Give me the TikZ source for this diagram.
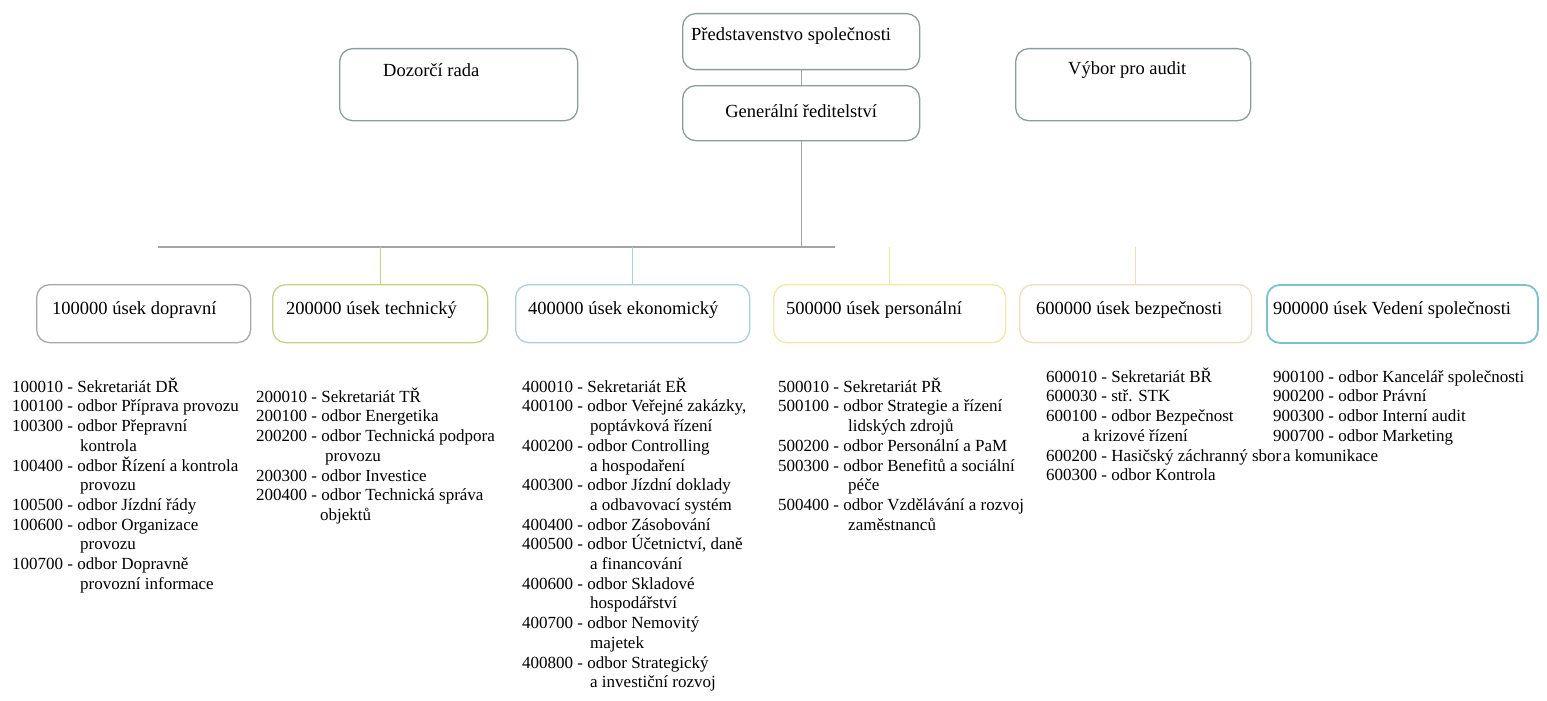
\documentclass[tikz,border=0pt]{standalone}
\usepackage{fontspec}
\setmainfont{Liberation Serif}
\definecolor{topc}{HTML}{8C9C9C}
\definecolor{c1}{HTML}{A8A8A8}
\definecolor{c2}{HTML}{C5D184}
\definecolor{c3}{HTML}{ABD0DA}
\definecolor{c4}{HTML}{EEEAA6}
\definecolor{c5}{HTML}{F2DCBF}
\definecolor{c6}{HTML}{7BC2CE}
\definecolor{linec}{HTML}{A4A4A4}
\tikzset{
  box/.style={draw, rounded corners=13pt, line width=1.3pt, anchor=north west, inner sep=0pt, fill=white},
  btxt/.style={font=\fontsize{18.5}{22}\selectfont, inner sep=0pt, anchor=west},
  ltxt/.style={font=\fontsize{17}{19.7}\selectfont, inner sep=0pt, anchor=north west, align=left},
  conn/.style={line width=1.1pt}
}
\begin{document}
\begin{tikzpicture}[x=1pt,y=-1pt]
\useasboundingbox (0,0) rectangle (1547,701);
% top boxes
\node[box, draw=topc, minimum width=237pt, minimum height=56pt] (pr) at (682,13) {};
\node[btxt] (prt) at ([xshift=9pt,yshift=-23pt]pr.north west) {Představenstvo společnosti};
\node[box, draw=topc, minimum width=237pt, minimum height=55pt] (gr) at (682,85) {};
\node[btxt, anchor=center] (grt) at ([yshift=-26pt]gr.north) {Generální ředitelství};
\node[box, draw=topc, minimum width=238pt, minimum height=72pt] (dr) at (339,48) {};
\node[btxt] (drt) at ([xshift=44pt,yshift=-22pt]dr.north west) {Dozorčí rada};
\node[box, draw=topc, minimum width=235pt, minimum height=72pt] (va) at (1015,48) {};
\node[btxt] (vat) at ([xshift=53pt,yshift=-22pt]va.north west) {Výbor pro audit};
% connectors top
\coordinate (hl) at (158,247);
\coordinate (hr) at (835,247);
\draw[conn, draw=linec] (pr.south) -- (pr.south |- gr.north);
\draw[conn, draw=linec] (gr.south) -- (gr.south |- hl);
\draw[conn, draw=linec] (hl) -- (hr);
% division boxes
\node[box, draw=c1, minimum width=214pt, minimum height=58pt] (b1) at (36,284) {};
\node[box, draw=c2, minimum width=215pt, minimum height=58pt] (b2) at (272,284) {};
\node[box, draw=c3, minimum width=234pt, minimum height=58pt] (b3) at (515,284) {};
\node[box, draw=c4, minimum width=232pt, minimum height=58pt] (b4) at (773,284) {};
\node[box, draw=c5, minimum width=232pt, minimum height=58pt] (b5) at (1019,284) {};
\node[box, draw=c6, line width=1.8pt, minimum width=271pt, minimum height=58pt] (b6) at (1266,284) {};
\node[btxt] (b1t) at ([xshift=16pt,yshift=-26pt]b1.north west) {100000 úsek dopravní};
\node[btxt] (b2t) at ([xshift=14pt,yshift=-26pt]b2.north west) {200000 úsek technický};
\node[btxt] (b3t) at ([xshift=13pt,yshift=-26pt]b3.north west) {400000 úsek ekonomický};
\node[btxt] (b4t) at ([xshift=13pt,yshift=-26pt]b4.north west) {500000 úsek personální};
\node[btxt] (b5t) at ([xshift=17pt,yshift=-26pt]b5.north west) {600000 úsek bezpečnosti};
\node[btxt] (b6t) at ([xshift=7pt,yshift=-26pt]b6.north west) {900000 úsek Vedení společnosti};
% stubs
\draw[conn, draw=c2] (b2.north) -- (b2.north |- hl);
\draw[conn, draw=c3] (b3.north) -- (b3.north |- hl);
\draw[conn, draw=c4] (b4.north) -- (b4.north |- hl);
\draw[conn, draw=c5] (b5.north) -- (b5.north |- hl);
% lists
\node[ltxt] (l1) at (12,376) {\rule{0pt}{16pt}100010 - Sekretariát DŘ\\
100100 - odbor Příprava provozu\\
100300 - odbor Přepravní\\
\hspace*{68pt}kontrola\\
100400 - odbor Řízení a kontrola\\
\hspace*{68pt}provozu\\
100500 - odbor Jízdní řády\\
100600 - odbor Organizace\\
\hspace*{68pt}provozu\\
100700 - odbor Dopravně\\
\hspace*{68pt}provozní informace};
\node[ltxt] (l2) at (256,386) {\rule{0pt}{16pt}200010 - Sekretariát TŘ\\
200100 - odbor Energetika\\
200200 - odbor Technická podpora\\
\hspace*{69pt}provozu\\
200300 - odbor Investice\\
200400 - odbor Technická správa\\
\hspace*{64pt}objektů};
\node[ltxt] (l3) at (522,376) {\rule{0pt}{16pt}400010 - Sekretariát EŘ\\
400100 - odbor Veřejné zakázky,\\
\hspace*{68pt}poptávková řízení\\
400200 - odbor Controlling\\
\hspace*{68pt}a hospodaření\\
400300 - odbor Jízdní doklady\\
\hspace*{68pt}a odbavovací systém\\
400400 - odbor Zásobování\\
400500 - odbor Účetnictví, daně\\
\hspace*{68pt}a financování\\
400600 - odbor Skladové\\
\hspace*{68pt}hospodářství\\
400700 - odbor Nemovitý\\
\hspace*{68pt}majetek\\
400800 - odbor Strategický\\
\hspace*{68pt}a investiční rozvoj};
\node[ltxt] (l4) at (778,376) {\rule{0pt}{16pt}500010 - Sekretariát PŘ\\
500100 - odbor Strategie a řízení\\
\hspace*{70pt}lidských zdrojů\\
500200 - odbor Personální a PaM\\
500300 - odbor Benefitů a sociální\\
\hspace*{70pt}péče\\
500400 - odbor Vzdělávání a rozvoj\\
\hspace*{70pt}zaměstnanců};
\node[ltxt] (l5) at (1046,366) {\rule{0pt}{16pt}600010 - Sekretariát BŘ\\
600030 - stř. STK\\
600100 - odbor Bezpečnost\\
\hspace*{36pt}a krizové řízení\\
600200 - Hasičský záchranný sbor\\
600300 - odbor Kontrola};
\node[ltxt] (l6) at (1273,366) {\rule{0pt}{16pt}900100 - odbor Kancelář společnosti\\
900200 - odbor Právní\\
900300 - odbor Interní audit\\
900700 - odbor Marketing\\
\hspace*{10pt}a komunikace};
\end{tikzpicture}
\end{document}
